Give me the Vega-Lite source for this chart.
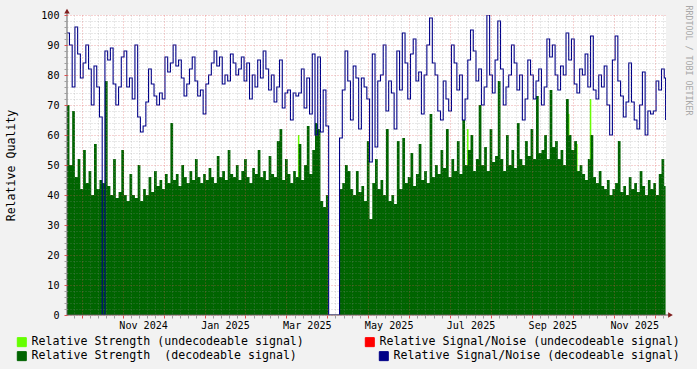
{
"$schema": "https://vega.github.io/schema/vega-lite/v6.json",
"width": 599, "height": 300,
"autosize": {"type": "none"},
"padding": {"left": 67, "top": 15, "right": 31, "bottom": 54},
"background": "#f2f2f2",
"config": {"view": {"fill": "#ffffff", "stroke": null}, "font": "DejaVu Sans Mono"},
"data": {"values": [
{"t":"2024-09-20","s":70,"n":94},{"t":"2024-09-22","s":50,"n":90},{"t":"2024-09-24","s":68,"n":76},{"t":"2024-09-26","s":46,"n":96},{"t":"2024-09-28","s":52,"n":87},{"t":"2024-09-30","s":42,"n":79},
{"t":"2024-10-02","s":55,"n":84},{"t":"2024-10-04","s":44,"n":90},{"t":"2024-10-06","s":48,"n":82},{"t":"2024-10-08","s":40,"n":70},{"t":"2024-10-10","s":57,"n":83},{"t":"2024-10-12","s":42,"n":76},{"t":"2024-10-14","s":45,"n":66},{"t":"2024-10-16","s":44,"n":0},{"t":"2024-10-18","s":78,"n":88},{"t":"2024-10-20","s":43,"n":85},{"t":"2024-10-22","s":40,"n":89},{"t":"2024-10-24","s":52,"n":77},{"t":"2024-10-26","s":39,"n":70},{"t":"2024-10-28","s":41,"n":76},{"t":"2024-10-30","s":55,"n":86},
{"t":"2024-11-01","s":40,"n":88},{"t":"2024-11-03","s":38,"n":76},{"t":"2024-11-05","s":47,"n":79},{"t":"2024-11-07","s":40,"n":72},{"t":"2024-11-09","s":39,"n":90},{"t":"2024-11-11","s":50,"n":66},{"t":"2024-11-13","s":38,"n":61},{"t":"2024-11-15","s":42,"n":63},{"t":"2024-11-17","s":40,"n":71},{"t":"2024-11-19","s":46,"n":82},{"t":"2024-11-21","s":41,"n":77},{"t":"2024-11-23","s":48,"n":73},{"t":"2024-11-25","s":43,"n":70},{"t":"2024-11-27","s":45,"n":74},{"t":"2024-11-29","s":42,"n":72},
{"t":"2024-12-01","s":47,"n":86},{"t":"2024-12-03","s":44,"n":81},{"t":"2024-12-05","s":64,"n":84},{"t":"2024-12-07","s":45,"n":90},{"t":"2024-12-09","s":47,"n":83},{"t":"2024-12-11","s":43,"n":85},{"t":"2024-12-13","s":50,"n":79},{"t":"2024-12-15","s":46,"n":73},{"t":"2024-12-17","s":44,"n":77},{"t":"2024-12-19","s":48,"n":82},{"t":"2024-12-21","s":45,"n":86},{"t":"2024-12-23","s":52,"n":78},{"t":"2024-12-25","s":46,"n":73},{"t":"2024-12-27","s":44,"n":75},{"t":"2024-12-29","s":47,"n":67},{"t":"2024-12-31","s":45,"n":77},
{"t":"2025-01-02","s":49,"n":80},{"t":"2025-01-04","s":46,"n":84},{"t":"2025-01-06","s":44,"n":88},{"t":"2025-01-08","s":53,"n":83},{"t":"2025-01-10","s":46,"n":86},{"t":"2025-01-12","s":48,"n":77},{"t":"2025-01-14","s":45,"n":80},{"t":"2025-01-16","s":55,"n":78},{"t":"2025-01-18","s":47,"n":87},{"t":"2025-01-20","s":46,"n":84},{"t":"2025-01-22","s":50,"n":80},{"t":"2025-01-24","s":45,"n":82},{"t":"2025-01-26","s":48,"n":86},{"t":"2025-01-28","s":52,"n":78},{"t":"2025-01-30","s":46,"n":84},
{"t":"2025-02-01","s":44,"n":72},{"t":"2025-02-03","s":49,"n":80},{"t":"2025-02-05","s":47,"n":76},{"t":"2025-02-07","s":55,"n":85},{"t":"2025-02-09","s":46,"n":79},{"t":"2025-02-11","s":48,"n":88},{"t":"2025-02-13","s":45,"n":82},{"t":"2025-02-15","s":53,"n":75},{"t":"2025-02-17","s":47,"n":80},{"t":"2025-02-19","s":46,"n":71},{"t":"2025-02-21","s":58,"n":76},{"t":"2025-02-23","s":62,"n":85},{"t":"2025-02-25","s":45,"n":69},{"t":"2025-02-27","s":52,"n":74},
{"t":"2025-03-01","s":47,"n":75},{"t":"2025-03-03","s":44,"n":65},{"t":"2025-03-05","s":48,"n":74},{"t":"2025-03-07","s":46,"n":73},{"t":"2025-03-09","s":57,"n":74,"u":60},{"t":"2025-03-11","s":45,"n":82},{"t":"2025-03-13","s":50,"n":69},{"t":"2025-03-15","s":63,"n":79},{"t":"2025-03-17","s":47,"n":67},{"t":"2025-03-19","s":55,"n":87},{"t":"2025-03-21","s":64,"n":60},{"t":"2025-03-23","s":62,"n":86},{"t":"2025-03-25","s":38,"n":61},{"t":"2025-03-27","s":36,"n":75},{"t":"2025-03-29","s":40,"n":63},{"t":"2025-03-31","s":0,"n":0},
{"t":"2025-04-02","s":0,"n":0},{"t":"2025-04-04","s":0,"n":0},{"t":"2025-04-06","s":0,"n":0},{"t":"2025-04-08","s":42,"n":59},{"t":"2025-04-10","s":44,"n":75},{"t":"2025-04-12","s":50,"n":88},{"t":"2025-04-14","s":48,"n":78},{"t":"2025-04-16","s":42,"n":65},{"t":"2025-04-18","s":40,"n":83},{"t":"2025-04-20","s":48,"n":79},{"t":"2025-04-22","s":41,"n":62},{"t":"2025-04-24","s":43,"n":79},{"t":"2025-04-26","s":38,"n":76},{"t":"2025-04-28","s":58,"n":72},{"t":"2025-04-30","s":32,"n":51},
{"t":"2025-05-02","s":44,"n":87},{"t":"2025-05-04","s":52,"n":56},{"t":"2025-05-06","s":42,"n":78},{"t":"2025-05-08","s":45,"n":80},{"t":"2025-05-10","s":40,"n":90},{"t":"2025-05-12","s":62,"n":68},{"t":"2025-05-14","s":38,"n":78},{"t":"2025-05-16","s":40,"n":74},{"t":"2025-05-18","s":37,"n":62},{"t":"2025-05-20","s":58,"n":88},{"t":"2025-05-22","s":42,"n":75},{"t":"2025-05-24","s":59,"n":94},{"t":"2025-05-26","s":44,"n":84},{"t":"2025-05-28","s":46,"n":72},{"t":"2025-05-30","s":54,"n":87},
{"t":"2025-06-01","s":43,"n":92},{"t":"2025-06-03","s":47,"n":78},{"t":"2025-06-05","s":57,"n":81},{"t":"2025-06-07","s":45,"n":67},{"t":"2025-06-09","s":48,"n":80},{"t":"2025-06-11","s":44,"n":90},{"t":"2025-06-13","s":67,"n":99},{"t":"2025-06-15","s":46,"n":84},{"t":"2025-06-17","s":50,"n":80},{"t":"2025-06-19","s":47,"n":68},{"t":"2025-06-21","s":55,"n":65},{"t":"2025-06-23","s":49,"n":78},{"t":"2025-06-25","s":62,"n":72},{"t":"2025-06-27","s":46,"n":68},{"t":"2025-06-29","s":52,"n":90},
{"t":"2025-07-01","s":48,"n":84},{"t":"2025-07-03","s":58,"n":75},{"t":"2025-07-05","s":47,"n":80},{"t":"2025-07-07","s":65,"n":65},{"t":"2025-07-09","s":50,"n":72},{"t":"2025-07-11","s":55,"n":85,"u":62},{"t":"2025-07-13","s":60,"n":95},{"t":"2025-07-15","s":48,"n":88},{"t":"2025-07-17","s":52,"n":78},{"t":"2025-07-19","s":70,"n":82},{"t":"2025-07-21","s":50,"n":70},{"t":"2025-07-23","s":56,"n":76},{"t":"2025-07-25","s":48,"n":100},{"t":"2025-07-27","s":62,"n":80},{"t":"2025-07-29","s":51,"n":74},{"t":"2025-07-31","s":53,"n":85},
{"t":"2025-08-02","s":78,"n":98},{"t":"2025-08-04","s":52,"n":82},{"t":"2025-08-06","s":48,"n":70},{"t":"2025-08-08","s":60,"n":76},{"t":"2025-08-10","s":50,"n":80},{"t":"2025-08-12","s":55,"n":90},{"t":"2025-08-14","s":49,"n":84},{"t":"2025-08-16","s":64,"n":75},{"t":"2025-08-18","s":52,"n":80},{"t":"2025-08-20","s":50,"n":65},{"t":"2025-08-22","s":58,"n":72},{"t":"2025-08-24","s":53,"n":85},{"t":"2025-08-26","s":62,"n":80},{"t":"2025-08-28","s":52,"n":72},{"t":"2025-08-30","s":73,"n":78},
{"t":"2025-09-01","s":54,"n":82},{"t":"2025-09-03","s":55,"n":70},{"t":"2025-09-05","s":60,"n":76},{"t":"2025-09-07","s":52,"n":92},{"t":"2025-09-09","s":75,"n":86},{"t":"2025-09-11","s":56,"n":90},{"t":"2025-09-13","s":58,"n":80},{"t":"2025-09-15","s":52,"n":75},{"t":"2025-09-17","s":55,"n":83},{"t":"2025-09-19","s":50,"n":80},{"t":"2025-09-21","s":72,"n":94},{"t":"2025-09-23","s":60,"n":85,"u":67},{"t":"2025-09-25","s":55,"n":92},{"t":"2025-09-27","s":58,"n":77},{"t":"2025-09-29","s":48,"n":74,"u":57},
{"t":"2025-10-01","s":50,"n":82},{"t":"2025-10-03","s":47,"n":80},{"t":"2025-10-05","s":45,"n":87},{"t":"2025-10-07","s":52,"n":76},{"t":"2025-10-09","s":60,"n":93,"u":72},{"t":"2025-10-11","s":46,"n":75},{"t":"2025-10-13","s":44,"n":72},{"t":"2025-10-15","s":48,"n":80},{"t":"2025-10-17","s":43,"n":76},{"t":"2025-10-19","s":42,"n":83},{"t":"2025-10-21","s":45,"n":70},{"t":"2025-10-23","s":40,"n":60},{"t":"2025-10-25","s":42,"n":85},{"t":"2025-10-27","s":44,"n":93},{"t":"2025-10-29","s":58,"n":78},{"t":"2025-10-31","s":41,"n":73},
{"t":"2025-11-02","s":43,"n":66},{"t":"2025-11-04","s":40,"n":71},{"t":"2025-11-06","s":46,"n":84},{"t":"2025-11-08","s":42,"n":71},{"t":"2025-11-10","s":44,"n":65},{"t":"2025-11-12","s":41,"n":62},{"t":"2025-11-14","s":48,"n":70},{"t":"2025-11-16","s":43,"n":81},{"t":"2025-11-18","s":40,"n":60},{"t":"2025-11-20","s":45,"n":68},{"t":"2025-11-22","s":42,"n":67},{"t":"2025-11-24","s":44,"n":68},{"t":"2025-11-26","s":40,"n":78},{"t":"2025-11-28","s":47,"n":75},{"t":"2025-11-30","s":52,"n":82},
{"t":"2025-12-02","s":43,"n":79},{"t":"2025-12-03","s":43,"n":65}
]},
"resolve": {"axis": {"x": "independent", "y": "independent"}},
"layer": [
{
"transform": [{"filter": "isValid(datum.u)"}],
"mark": {"type": "rule", "strokeWidth": 1.5, "clip": true, "opacity": 1},
"encoding": {
"x": {"field": "t", "type": "temporal", "axis": null,
"scale": {"domain": [{"year": 2024, "month": 9, "date": 20, "hours": 4, "minutes": 48, "utc": true}, {"year": 2025, "month": 12, "date": 3, "hours": 7, "minutes": 12, "utc": true}]}},
"y": {"field": "u", "type": "quantitative", "axis": null, "scale": {"domain": [0, 100], "nice": false}},
"y2": {"datum": 0},
"stroke": {"datum": "Relative Strength (undecodeable signal)",
"scale": {"domain": ["Relative Strength (undecodeable signal)", "Relative Signal/Noise (undecodeable signal)"], "range": ["#66ff00", "#ff0000"]},
"legend": {"orient": "none", "legendX": -51, "legendY": 321, "direction": "horizontal", "title": null,
"symbolType": "square", "symbolSize": 81, "symbolStrokeColor": "#000000", "symbolStrokeWidth": 1, "symbolOpacity": 1,
"labelFont": "DejaVu Sans Mono", "labelFontSize": 11.6, "labelColor": "#000000", "labelOffset": 4, "labelLimit": 500,
"columnPadding": 59, "padding": 0,
"encode": {"symbols": {"update": {"fill": {"scale": "stroke", "field": "value"}, "stroke": {"value": "#000000"}, "strokeWidth": {"value": 1}}}}}}
}
},
{
"mark": {"type": "area", "interpolate": "step-after", "clip": true, "opacity": 1},
"encoding": {
"x": {"field": "t", "type": "temporal",
"axis": {
"values": [
{"year":2024,"month":9,"date":25,"utc":true},
{"year":2024,"month":10,"date":1,"utc":true},{"year":2024,"month":10,"date":7,"utc":true},{"year":2024,"month":10,"date":13,"utc":true},{"year":2024,"month":10,"date":19,"utc":true},{"year":2024,"month":10,"date":25,"utc":true},
{"year":2024,"month":10,"date":31,"utc":true},{"year":2024,"month":11,"date":6,"utc":true},{"year":2024,"month":11,"date":12,"utc":true},{"year":2024,"month":11,"date":18,"utc":true},{"year":2024,"month":11,"date":24,"utc":true},
{"year":2024,"month":11,"date":30,"utc":true},{"year":2024,"month":12,"date":6,"utc":true},{"year":2024,"month":12,"date":12,"utc":true},{"year":2024,"month":12,"date":18,"utc":true},{"year":2024,"month":12,"date":24,"utc":true},
{"year":2024,"month":12,"date":30,"utc":true},{"year":2025,"month":1,"date":5,"utc":true},{"year":2025,"month":1,"date":11,"utc":true},{"year":2025,"month":1,"date":17,"utc":true},{"year":2025,"month":1,"date":23,"utc":true},
{"year":2025,"month":1,"date":29,"utc":true},{"year":2025,"month":2,"date":4,"utc":true},{"year":2025,"month":2,"date":10,"utc":true},{"year":2025,"month":2,"date":16,"utc":true},{"year":2025,"month":2,"date":22,"utc":true},
{"year":2025,"month":2,"date":28,"utc":true},{"year":2025,"month":3,"date":6,"utc":true},{"year":2025,"month":3,"date":12,"utc":true},{"year":2025,"month":3,"date":18,"utc":true},{"year":2025,"month":3,"date":24,"utc":true},
{"year":2025,"month":3,"date":30,"utc":true},{"year":2025,"month":4,"date":5,"utc":true},{"year":2025,"month":4,"date":11,"utc":true},{"year":2025,"month":4,"date":17,"utc":true},{"year":2025,"month":4,"date":23,"utc":true},
{"year":2025,"month":4,"date":29,"utc":true},{"year":2025,"month":5,"date":5,"utc":true},{"year":2025,"month":5,"date":11,"utc":true},{"year":2025,"month":5,"date":17,"utc":true},{"year":2025,"month":5,"date":23,"utc":true},
{"year":2025,"month":5,"date":29,"utc":true},{"year":2025,"month":6,"date":4,"utc":true},{"year":2025,"month":6,"date":10,"utc":true},{"year":2025,"month":6,"date":16,"utc":true},{"year":2025,"month":6,"date":22,"utc":true},
{"year":2025,"month":6,"date":28,"utc":true},{"year":2025,"month":7,"date":4,"utc":true},{"year":2025,"month":7,"date":10,"utc":true},{"year":2025,"month":7,"date":16,"utc":true},{"year":2025,"month":7,"date":22,"utc":true},
{"year":2025,"month":7,"date":28,"utc":true},{"year":2025,"month":8,"date":3,"utc":true},{"year":2025,"month":8,"date":9,"utc":true},{"year":2025,"month":8,"date":15,"utc":true},{"year":2025,"month":8,"date":21,"utc":true},
{"year":2025,"month":8,"date":27,"utc":true},{"year":2025,"month":9,"date":2,"utc":true},{"year":2025,"month":9,"date":8,"utc":true},{"year":2025,"month":9,"date":14,"utc":true},{"year":2025,"month":9,"date":20,"utc":true},
{"year":2025,"month":9,"date":26,"utc":true},{"year":2025,"month":10,"date":2,"utc":true},{"year":2025,"month":10,"date":8,"utc":true},{"year":2025,"month":10,"date":14,"utc":true},{"year":2025,"month":10,"date":20,"utc":true},
{"year":2025,"month":10,"date":26,"utc":true},{"year":2025,"month":11,"date":1,"utc":true},{"year":2025,"month":11,"date":7,"utc":true},{"year":2025,"month":11,"date":13,"utc":true},{"year":2025,"month":11,"date":19,"utc":true},
{"year":2025,"month":11,"date":25,"utc":true},{"year":2025,"month":12,"date":1,"utc":true},
{"year":2024,"month":11,"date":15,"utc":true},{"year":2025,"month":1,"date":14,"utc":true},{"year":2025,"month":3,"date":15,"utc":true},{"year":2025,"month":5,"date":14,"utc":true},{"year":2025,"month":7,"date":13,"utc":true},{"year":2025,"month":9,"date":11,"utc":true},{"year":2025,"month":11,"date":10,"utc":true}
],
"title": null, "domain": false, "zindex": 1,
"grid": true, "gridDash": [1, 2], "gridWidth": 1,
"gridColor": {"condition": {"test": "(datum.value - 1727740800000) / 86400000 % 30 == 0", "value": "rgba(222,79,79,0.5)"}, "value": "rgba(143,143,143,0.4)"},
"gridOpacity": {"condition": {"test": "(datum.value - 1727740800000) / 86400000 % 30 == 15", "value": 0}, "value": 1},
"ticks": true, "tickSize": 3,
"tickColor": {"condition": {"test": "(datum.value - 1727740800000) / 86400000 % 30 == 0", "value": "#de4f4f"}, "value": "#a0a0a0"},
"tickOpacity": {"condition": {"test": "(datum.value - 1727740800000) / 86400000 % 30 == 15", "value": 0}, "value": 1},
"labelExpr": "(datum.value - 1727740800000) / 86400000 % 30 == 15 ? utcFormat(datum.value, '%b %Y') : ''",
"labelFont": "DejaVu Sans Mono", "labelFontSize": 10.1, "labelColor": "#000000",
"labelPadding": 2, "labelOverlap": false, "labelFlush": false, "labelBound": false
}},
"y": {"field": "s", "type": "quantitative",
"axis": {
"values": [0,2,4,6,8,10,12,14,16,18,20,22,24,26,28,30,32,34,36,38,40,42,44,46,48,50,52,54,56,58,60,62,64,66,68,70,72,74,76,78,80,82,84,86,88,90,92,94,96,98,100],
"title": "Relative Quality", "domain": false, "zindex": 1,
"grid": true, "gridDash": [1, 2], "gridWidth": 1,
"gridColor": {"condition": {"test": "datum.value % 10 == 0", "value": "rgba(222,79,79,0.5)"}, "value": "rgba(143,143,143,0.4)"},
"ticks": true, "tickSize": 3,
"tickColor": {"condition": {"test": "datum.value % 10 == 0", "value": "#de4f4f"}, "value": "#a0a0a0"},
"labelExpr": "datum.value % 10 == 0 ? datum.label : ''",
"labelFont": "DejaVu Sans Mono", "labelFontSize": 10.1, "labelColor": "#000000", "labelPadding": 5, "labelOverlap": false,
"titleFont": "DejaVu Sans Mono", "titleFontSize": 11.6, "titleFontWeight": "normal", "titleColor": "#000000",
"titleX": -56, "titleY": 150, "titleAngle": -90, "titleAlign": "center", "titleBaseline": "middle"
}},
"color": {"datum": "Relative Strength\u00a0 (decodeable signal)",
"scale": {"domain": ["Relative Strength\u00a0 (decodeable signal)", "Relative Signal/Noise (decodeable signal)"], "range": ["#006400", "#000088"]},
"legend": {"orient": "none", "legendX": -51, "legendY": 335, "direction": "horizontal", "title": null,
"symbolType": "square", "symbolSize": 81, "symbolStrokeColor": "#000000", "symbolStrokeWidth": 1, "symbolOpacity": 1,
"labelFont": "DejaVu Sans Mono", "labelFontSize": 11.6, "labelColor": "#000000", "labelOffset": 4, "labelLimit": 500,
"columnPadding": 80, "padding": 0,
"encode": {"symbols": {"update": {"fill": {"scale": "color", "field": "value"}, "stroke": {"value": "#000000"}, "strokeWidth": {"value": 1}}}}}}
}
},
{
"mark": {"type": "line", "interpolate": "step-after", "strokeWidth": 1.1, "clip": true, "opacity": 1},
"encoding": {
"x": {"field": "t", "type": "temporal", "axis": null},
"y": {"field": "n", "type": "quantitative",
"axis": {"orient": "right", "title": "RRDTOOL / TOBI OETIKER", "domain": false, "ticks": false, "labels": false, "grid": false,
"titleX": 21, "titleY": -10, "titleAngle": 90, "titleAlign": "left", "titleBaseline": "middle",
"titleFont": "DejaVu Sans Mono", "titleFontSize": 8.3, "titleFontWeight": "normal", "titleColor": "#a8a8a8"}},
"color": {"datum": "Relative Signal/Noise (decodeable signal)"}
}
},
{
"data": {"values": [{}]},
"mark": {"type": "rule", "color": "#606060", "strokeWidth": 1},
"encoding": {
"x": {"datum": {"year": 2024, "month": 9, "date": 20, "hours": 4, "minutes": 48, "utc": true}, "type": "temporal", "axis": null},
"y": {"datum": 0, "type": "quantitative", "axis": null},
"y2": {"datum": 101.5}
}
},
{
"data": {"values": [{}]},
"mark": {"type": "rule", "color": "#606060", "strokeWidth": 1},
"encoding": {
"x": {"datum": {"year": 2024, "month": 9, "date": 20, "hours": 4, "minutes": 48, "utc": true}, "type": "temporal", "axis": null},
"x2": {"datum": {"year": 2025, "month": 12, "date": 6, "utc": true}},
"y": {"datum": 0, "type": "quantitative", "axis": null}
}
},
{
"data": {"values": [{}]},
"mark": {"type": "point", "shape": "triangle-up", "filled": true, "size": 30, "color": "#801f1f", "opacity": 1},
"encoding": {
"x": {"datum": {"year": 2024, "month": 9, "date": 20, "hours": 4, "minutes": 48, "utc": true}, "type": "temporal", "axis": null},
"y": {"datum": 101.3, "type": "quantitative", "axis": null}
}
},
{
"data": {"values": [{}]},
"mark": {"type": "point", "shape": "triangle-right", "filled": true, "size": 30, "color": "#801f1f", "opacity": 1},
"encoding": {
"x": {"datum": {"year": 2025, "month": 12, "date": 6, "hours": 14, "utc": true}, "type": "temporal", "axis": null},
"y": {"datum": 0, "type": "quantitative", "axis": null}
}
}
]
}
